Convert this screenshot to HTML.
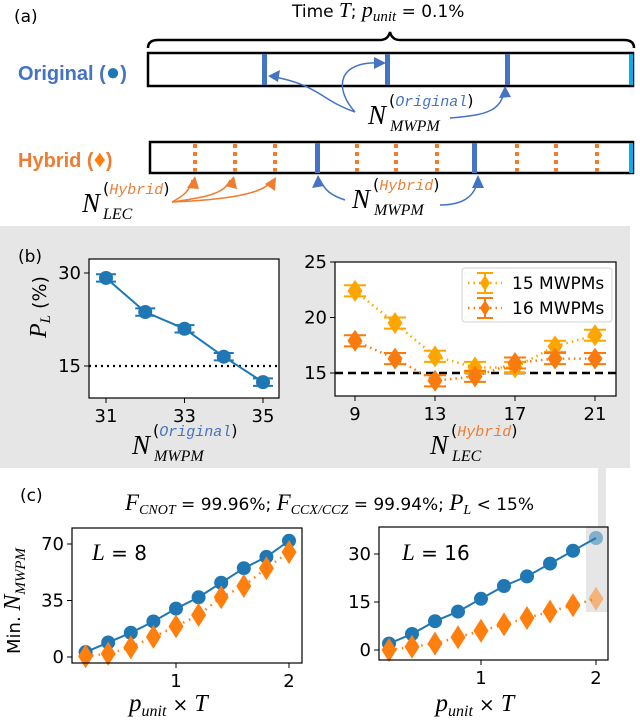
<!DOCTYPE html>
<html><head><meta charset="utf-8">
<style>
html,body{margin:0;padding:0;background:#fff;}
svg{display:block;font-family:"DejaVu Sans","Liberation Sans",sans-serif;}
.m{font-family:"Liberation Serif",serif;font-style:italic;}
.mono{font-family:"Liberation Mono",monospace;font-style:italic;}
</style></head>
<body>
<svg id="fig" width="640" height="720" viewBox="0 0 640 720" xmlns="http://www.w3.org/2000/svg">
<g>
<text x="14" y="22" font-size="17">(a)</text>
<text x="292" y="17" font-size="17">Time <tspan class="m" font-size="21">T</tspan>;  <tspan class="m" font-size="22">p</tspan><tspan class="m" font-size="15" dy="4">unit</tspan><tspan dy="-4"> = 0.1%</tspan></text>
<path d="M148,48 Q148,40 158,40 L380,40 Q388,40 390,32 Q392,40 400,40 L624,40 Q634,40 634,48" fill="none" stroke="#000" stroke-width="2.5"/>
<text x="18" y="80" font-size="20" font-family="Liberation Sans" font-weight="bold" fill="#4472c4">Original (<tspan fill="#1f77b4" font-size="24">●</tspan>)</text>
<rect x="148" y="53" width="485" height="33" fill="#fff" stroke="#000" stroke-width="2.5"/>
<rect x="262" y="54" width="5" height="31" fill="#4472c4"/>
<rect x="385" y="54" width="5" height="31" fill="#4472c4"/>
<rect x="505" y="54" width="5" height="31" fill="#4472c4"/>
<rect x="629" y="54" width="4" height="31" fill="#00b0f0"/>
<g fill="none" stroke="#4472c4" stroke-width="1.5">
<path d="M355,112 C320,100 320,85 270,76"/><path d="M355,112 C335,90 335,60 383,63"/><path d="M450,118 C490,115 500,110 505,90"/>
</g>
<g fill="#4472c4"><polygon points="268,76 280,70 278,82"/><polygon points="386,63 374,57 374,69"/><polygon points="505,86 499,98 511,97"/></g>
<text y="124"><tspan class="m" font-size="27" x="368">N</tspan><tspan class="m" font-size="16" x="390" y="131">MWPM</tspan><tspan font-size="16" x="389" y="106">(</tspan><tspan class="mono" font-size="15" fill="#4472c4">Original</tspan><tspan font-size="16">)</tspan></text>

<text x="18" y="167" font-size="20" font-family="Liberation Sans" font-weight="bold" fill="#ed7d31">Hybrid (<tspan fill="#ff7f0e" font-size="24">♦</tspan>)</text>
<rect x="150" y="142" width="483" height="31" fill="#fff" stroke="#000" stroke-width="2.5"/>
<g stroke="#ed7d31" stroke-width="4" stroke-dasharray="4,4">
<line x1="195" y1="144" x2="195" y2="172"/><line x1="235" y1="144" x2="235" y2="172"/><line x1="275" y1="144" x2="275" y2="172"/>
<line x1="357" y1="144" x2="357" y2="172"/><line x1="396" y1="144" x2="396" y2="172"/><line x1="437" y1="144" x2="437" y2="172"/>
<line x1="517" y1="144" x2="517" y2="172"/><line x1="556" y1="144" x2="556" y2="172"/><line x1="597" y1="144" x2="597" y2="172"/>
</g>
<rect x="315" y="143" width="5" height="30" fill="#4472c4"/>
<rect x="472" y="143" width="5" height="30" fill="#4472c4"/>
<rect x="629" y="143" width="4" height="30" fill="#00b0f0"/>
<g fill="none" stroke="#ed7d31" stroke-width="1.5"><path d="M172,202 C185,195 190,190 192,180"/><path d="M172,202 C200,198 225,195 230,180"/><path d="M172,202 C220,200 265,195 272,180"/></g>
<g fill="#ed7d31"><polygon points="195,176 187,188 199,189"/><polygon points="234,176 225,186 237,189"/><polygon points="276,177 265,184 275,191"/></g>
<g fill="none" stroke="#4472c4" stroke-width="1.5"><path d="M345,200 C330,195 325,190 320,180"/><path d="M440,205 C465,205 475,195 478,180"/></g>
<g fill="#4472c4"><polygon points="318,175 312,188 324,186"/><polygon points="478,175 472,188 484,188"/></g>
<text y="212"><tspan class="m" font-size="27" x="82">N</tspan><tspan class="m" font-size="16" x="103" y="219">LEC</tspan><tspan font-size="16" x="103" y="194">(</tspan><tspan class="mono" font-size="15" fill="#ed7d31">Hybrid</tspan><tspan font-size="16">)</tspan></text>
<text y="208"><tspan class="m" font-size="27" x="352">N</tspan><tspan class="m" font-size="16" x="374" y="215">MWPM</tspan><tspan font-size="16" x="373" y="190">(</tspan><tspan class="mono" font-size="15" fill="#ed7d31">Hybrid</tspan><tspan font-size="16">)</tspan></text>
</g>

<rect x="0" y="226" width="630" height="242" fill="#e6e6e6"/>
<rect x="598" y="466" width="8" height="62" fill="#e6e6e6"/>
<text x="18" y="262" font-size="17">(b)</text>
<text x="20" y="501" font-size="17">(c)</text>
<text x="125" y="510" font-size="17"><tspan class="m" font-size="23">F</tspan><tspan class="m" font-size="14" dy="4">CNOT</tspan><tspan dy="-4"> = 99.96%; </tspan><tspan class="m" font-size="23">F</tspan><tspan class="m" font-size="14" dy="4">CCX/CCZ</tspan><tspan dy="-4"> = 99.94%; </tspan><tspan class="m" font-size="23">P</tspan><tspan class="m" font-size="14" dy="4">L</tspan><tspan dy="-4"> &lt; 15%</tspan></text>
<g id="charts"></g>
</svg>
<script>
// ---- Chart data ----
const b1X = [31, 32, 33, 34, 35];
const b1Y = [29.2, 23.7, 21.0, 16.5, 12.4];
const b1Err = [0.6, 0.6, 0.6, 0.6, 0.6];
const b1XTicks = [31, 33, 35];
const b1YTicks = [15, 30];

const b2X = [9, 11, 13, 15, 17, 19, 21];
const b2Y15 = [22.4, 19.5, 16.5, 15.5, 15.5, 17.4, 18.4];
const b2Y16 = [17.9, 16.3, 14.3, 14.7, 15.9, 16.3, 16.3];
const b2Err = [0.5, 0.5, 0.5, 0.5, 0.5, 0.5, 0.5];
const b2XTicks = [9, 13, 17, 21];
const b2YTicks = [15, 20, 25];
const legendLabels = ["15 MWPMs", "16 MWPMs"];

const cX = [0.2, 0.4, 0.6, 0.8, 1.0, 1.2, 1.4, 1.6, 1.8, 2.0];
const c8Orig = [3, 9, 15, 22, 30, 37, 46, 55, 62, 72];
const c8Hyb = [0.5, 2, 6, 12.5, 19, 26, 37, 44, 55, 65];
const c16Orig = [2, 5, 9, 12, 16, 20, 23, 27, 31, 35];
const c16Hyb = [0, 1, 2, 4, 6, 8, 10, 12, 14, 16];
const c8YTicks = [0, 35, 70];
const c16YTicks = [0, 15, 30];
const cXTicks = [1, 2];

const NS = "http://www.w3.org/2000/svg";
const root = document.getElementById("charts");
function mk(tag, attrs, parent) {
  const e = document.createElementNS(NS, tag);
  for (const k in attrs) e.setAttribute(k, attrs[k]);
  (parent || root).appendChild(e);
  return e;
}
function lin(d0, d1, r0, r1) { return v => r0 + (v - d0) * (r1 - r0) / (d1 - d0); }

function axesBox(name, x0, y0, x1, y1, xs, ys, xt, yt) {
  const g = mk("g", {});
  
  
  const bg = mk("rect", {x: x0, y: y0, width: x1 - x0, height: y1 - y0, fill: "#fff"}, g);
  
  
  xt.forEach(t => {
    const x = xs(t);
    mk("line", {x1: x, x2: x, y1: y1, y2: y1 + 5, stroke: "#000", "stroke-width": 1}, g);
    const tx = mk("text", {x: x, y: y1 + 24, "font-size": 18, "text-anchor": "middle"}, g);
    tx.textContent = t;
    
    
  });
  yt.forEach(t => {
    const y = ys(t);
    mk("line", {x1: x0 - 5, x2: x0, y1: y, y2: y, stroke: "#000", "stroke-width": 1}, g);
    const tx = mk("text", {x: x0 - 8, y: y + 6, "font-size": 18, "text-anchor": "end"}, g);
    tx.textContent = t;
    
    
  });
  return g;
}
function frame(x0, y0, x1, y1) {
  const f = mk("rect", {x: x0, y: y0, width: x1 - x0, height: y1 - y0, fill: "none", stroke: "#000", "stroke-width": 1.2});
  
  
}
function polyline(xs, ys, X, Y, color, width, dash, name, opacity) {
  const pts = X.map((v, i) => xs(v) + "," + ys(Y[i])).join(" ");
  const p = mk("polyline", {points: pts, fill: "none", stroke: color, "stroke-width": width, "stroke-dasharray": dash || "none", opacity: opacity || 1});
  
  
}
function circle(x, y, r, color, name, op) {
  const c = mk("circle", {cx: x, cy: y, r: r, fill: color, opacity: op || 1});
  
  
}
function diamond(x, y, w, h, color, name, op) {
  const d = mk("polygon", {points: `${x},${y - h} ${x + w},${y} ${x},${y + h} ${x - w},${y}`, fill: color, opacity: op || 1});
  
  
}
function errbar(x, ylo, yhi, cap, color, name) {
  const g = mk("g", {stroke: color, "stroke-width": 2});
  
  
  mk("line", {x1: x, x2: x, y1: ylo, y2: yhi}, g);
  mk("line", {x1: x - cap, x2: x + cap, y1: ylo, y2: ylo}, g);
  mk("line", {x1: x - cap, x2: x + cap, y1: yhi, y2: yhi}, g);
}
const NLAB = (sub, sup, col, x, y) =>
  `<tspan class="m" font-size="27" x="${x}" y="${y}">N</tspan><tspan class="m" font-size="16" x="${x + 22}" y="${y + 7}">${sub}</tspan><tspan font-size="16" x="${x + 21}" y="${y - 18}">(</tspan><tspan class="mono" font-size="15" fill="${col}">${sup}</tspan><tspan font-size="16">)</tspan>`;

// ---- (b) left ----
(function () {
  const x0 = 89, x1 = 279, y0 = 259, y1 = 398;
  const xs = lin(31, 35, 106, 263), ys = lin(15, 30, 366, 273);
  axesBox("pl-vs-original-chart", x0, y0, x1, y1, xs, ys, b1XTicks, b1YTicks);
  const th = mk("line", {x1: x0, x2: x1, y1: ys(15), y2: ys(15), stroke: "#000", "stroke-width": 2.2, "stroke-dasharray": "2,4"});
  
  
  polyline(xs, ys, b1X, b1Y, "#1f77b4", 2, null, "original-series-line");
  b1X.forEach((v, i) => {
    errbar(xs(v), ys(b1Y[i] - b1Err[i]), ys(b1Y[i] + b1Err[i]), 10, "#1f77b4", "original-error-bar");
    circle(xs(v), ys(b1Y[i]), 7, "#1f77b4", "original-point");
  });
  frame(x0, y0, x1, y1);
  const yl = mk("text", {x: 0, y: 0, "font-size": 19, transform: "translate(46,338) rotate(-90)"});
  yl.innerHTML = '<tspan class="m" font-size="24">P</tspan><tspan class="m" font-size="15" dy="4">L</tspan><tspan dy="-4"> (%)</tspan>';
  
  
  const xl = mk("text", {});
  xl.innerHTML = NLAB("MWPM", "Original", "#4472c4", 132, 454);
  
  
})();

// ---- (b) right ----
(function () {
  const x0 = 335, x1 = 616, y0 = 262, y1 = 396;
  const xs = lin(9, 21, 355, 595), ys = lin(15, 25, 373, 262);
  axesBox("pl-vs-lec-chart", x0, y0, x1, y1, xs, ys, b2XTicks, b2YTicks);
  const th = mk("line", {x1: x0, x2: x1, y1: ys(15), y2: ys(15), stroke: "#000", "stroke-width": 2.5, "stroke-dasharray": "8,5"});
  
  
  const cols = ["#ffa500", "#f97b0e"];
  [b2Y15, b2Y16].forEach((Y, s) => {
    polyline(xs, ys, b2X, Y, cols[s], 2.5, "1.5,4", "series-" + (s + 15) + "-line");
    b2X.forEach((v, i) => {
      errbar(xs(v), ys(Y[i] - b2Err[i]), ys(Y[i] + b2Err[i]), 11, cols[s], "error-bar-" + (s + 15));
      diamond(xs(v), ys(Y[i]), 7.5, 11, cols[s], "point-" + (s + 15) + "-mwpm");
    });
  });
  frame(x0, y0, x1, y1);
  const lg = mk("g", {});
  
  
  mk("rect", {x: 462, y: 268, width: 150, height: 54, rx: 3, fill: "#fff", stroke: "#ccc", opacity: 0.9}, lg);
  legendLabels.forEach((lab, s) => {
    const y = 283 + s * 25;
    mk("line", {x1: 468, x2: 502, y1: y, y2: y, stroke: cols[s], "stroke-width": 2.5, "stroke-dasharray": "1.5,4"}, lg);
    mk("line", {x1: 485, x2: 485, y1: y - 10, y2: y + 10, stroke: cols[s], "stroke-width": 2}, lg);
    mk("line", {x1: 477, x2: 493, y1: y - 10, y2: y - 10, stroke: cols[s], "stroke-width": 2}, lg);
    mk("line", {x1: 477, x2: 493, y1: y + 10, y2: y + 10, stroke: cols[s], "stroke-width": 2}, lg);
    mk("polygon", {points: `485,${y - 8} 490,${y} 485,${y + 8} 480,${y}`, fill: cols[s]}, lg);
    const t = mk("text", {x: 512, y: y + 6, "font-size": 17}, lg);
    t.textContent = lab;
    
    
  });
  const xl = mk("text", {});
  xl.innerHTML = NLAB("LEC", "Hybrid", "#ed7d31", 430, 454);
  
  
})();

// ---- (c) charts ----
function cChart(name, x0, x1, y0, y1, xs, ys, yt, orig, hyb, label, lx, highlight) {
  axesBox(name, x0, y0, x1, y1, xs, ys, cXTicks, yt);
  if (highlight) {
    const h = mk("rect", {x: 586, y: y0, width: x1 - 586, height: 85, fill: "#e6e6e6"});
    
    
  }
  polyline(xs, ys, cX, hyb, "#ff7f0e", 2.5, "1.5,5", "hybrid-series-line");
  polyline(xs, ys, cX, orig, "#1f77b4", 2, null, "original-series-line");
  const n = cX.length;
  cX.forEach((v, i) => {
    const op = (highlight && i === n - 1) ? 0.5 : 1;
    circle(xs(v), ys(orig[i]), 7, "#1f77b4", "original-point", op);
    diamond(xs(v), ys(hyb[i]), 7.5, 12, "#ff7f0e", "hybrid-point", op);
  });
  frame(x0, y0, x1, y1);
  const t = mk("text", {x: lx, y: 560, "font-size": 20});
  t.innerHTML = '<tspan class="m" font-size="23">L</tspan> = ' + label;
  
  
  const xl = mk("text", {x: (x0 + x1) / 2 - 58, y: 711, "font-size": 19});
  xl.innerHTML = '<tspan class="m" font-size="25">p</tspan><tspan class="m" font-size="16" dy="5">unit</tspan><tspan dy="-5"> × </tspan><tspan class="m" font-size="24">T</tspan>';
  
  
}
cChart("l8-chart", 72, 302, 528, 663, lin(1, 2, 176, 289), lin(0, 70, 657, 544), c8YTicks, c8Orig, c8Hyb, "8", 92, false);
cChart("l16-chart", 379, 608, 527, 660, lin(1, 2, 481, 596), lin(0, 30, 650, 554), c16YTicks, c16Orig, c16Hyb, "16", 402, true);
const cy = mk("text", {x: 0, y: 0, "font-size": 18, transform: "translate(20,654) rotate(-90)"});
cy.innerHTML = 'Min. <tspan class="m" font-size="24">N</tspan><tspan class="m" font-size="15" dy="5">MWPM</tspan>';


</script>
</body></html>
